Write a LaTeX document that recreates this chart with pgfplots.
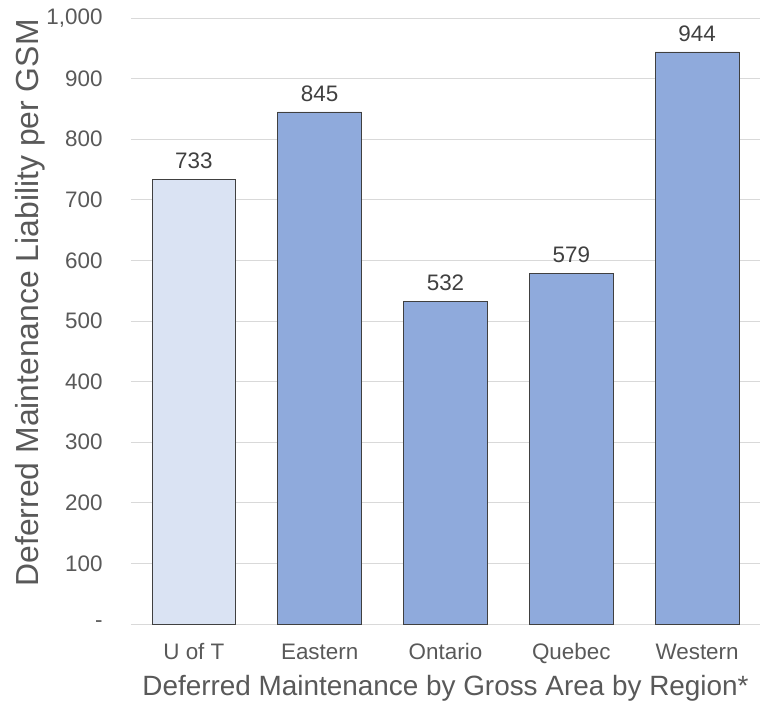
\documentclass[border=0pt]{standalone}
\usepackage{pgfplots}
\pgfplotsset{compat=1.18}
\usepackage{fontspec}
\setmainfont{Liberation Sans}
\definecolor{txtgray}{HTML}{595959}
\definecolor{lblgray}{HTML}{404040}
\definecolor{gridgray}{HTML}{D9D9D9}
\definecolor{lightbar}{HTML}{DAE3F3}
\definecolor{darkbar}{HTML}{8FAADC}

\begin{document}
\begin{tikzpicture}
\begin{axis}[
    at={(0,0)}, anchor=south west,
    scale only axis,
    width=629bp, height=606bp,
    xmin=-0.5, xmax=4.5,
    ymin=0, ymax=1000,
    axis line style={draw=none},
    ytick={0,100,...,1000},
    yticklabels={-,100,200,300,400,500,600,700,800,900,{1,000}},
    xtick={0,1,2,3,4},
    xticklabels={U of T,Eastern,Ontario,Quebec,Western},
    major tick length=0pt,
    ymajorgrids,
    grid style={gridgray, line width=0.8pt},
    tick label style={font=\fontsize{22.5}{26}\selectfont, text=txtgray},
    yticklabel style={xshift=-25bp},
    xticklabel style={anchor=base, yshift=-35bp},
    ylabel={Deferred Maintenance Liability per GSM},
    xlabel={Deferred Maintenance by Gross Area by Region*},
    xlabel style={font=\fontsize{28}{32}\selectfont, text=txtgray,
        at={([yshift=-71bp]axis description cs:0.5,0)}, anchor=base},
    ylabel style={font=\fontsize{32}{36}\selectfont, text=txtgray,
        at={([xshift=-92bp]axis description cs:0,0.53)}, anchor=base},
    ybar, bar width=0.667, bar shift=0pt,
    nodes near coords,
    nodes near coords style={font=\fontsize{22.5}{26}\selectfont, text=lblgray, yshift=7bp,
        /pgf/number format/assume math mode=true},
]
\addplot[fill=lightbar, draw=black!75, line width=0.75pt] coordinates {(0,733)};
\addplot[fill=darkbar, draw=black!75, line width=0.75pt] coordinates {(1,845) (2,532) (3,579) (4,944)};
\end{axis}
\pgfresetboundingbox
\path (-131bp,-80bp) rectangle (629bp,624bp);
\end{tikzpicture}
\end{document}
